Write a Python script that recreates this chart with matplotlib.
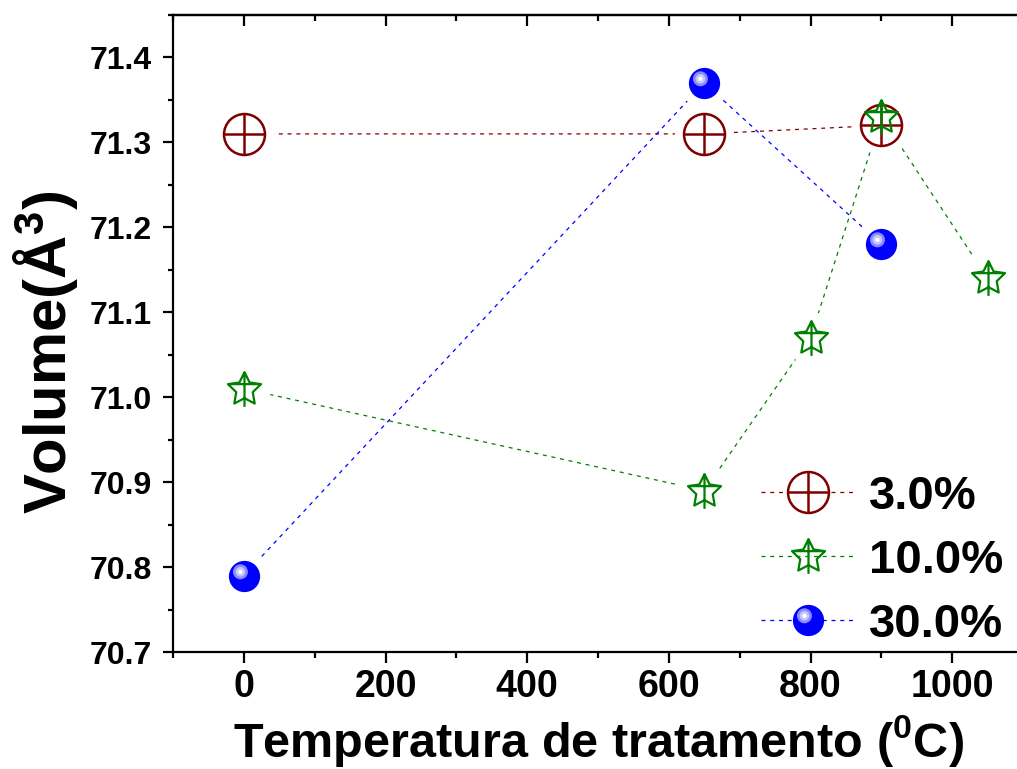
import numpy as np
import matplotlib
matplotlib.use('Agg')
import matplotlib.pyplot as plt
from matplotlib.path import Path
from matplotlib.lines import Line2D
from matplotlib.ticker import MultipleLocator

# data
temp_3 = [0, 650, 900]
vol_3 = [71.31, 71.31, 71.32]
temp_10 = [0, 650, 800, 900, 1050]
vol_10 = [71.01, 70.89, 71.07, 71.33, 71.14]
temp_30 = [0, 650, 900]
vol_30 = [70.79, 71.37, 71.18]
labels = ['3.0%', '10.0%', '30.0%']

RED = '#800000'
GREEN = '#008000'
BLUE = '#0000ff'

plt.rcParams['font.family'] = ['Liberation Sans', 'DejaVu Sans']
plt.rcParams['font.weight'] = 'bold'
plt.rcParams['mathtext.default'] = 'regular'


def star_marker():
    # star outline with a vertical and a horizontal bar (Origin style)
    ang = np.deg2rad(90 + 36 * np.arange(10))
    r = np.where(np.arange(10) % 2 == 0, 1.0, 0.5)
    verts = list(zip(r * np.cos(ang), r * np.sin(ang))) + [(0, 0)]
    codes = [Path.MOVETO] + [Path.LINETO] * 9 + [Path.CLOSEPOLY]
    y_arm = np.sin(np.deg2rad(18))
    verts += [(-0.95, y_arm), (0.95, y_arm), (0, 1), (0, -1)]
    codes += [Path.MOVETO, Path.LINETO, Path.MOVETO, Path.LINETO]
    return Path(verts, codes)


def spot(cx, cy, r):
    # small disc off-centre, padded so the marker keeps unit scale
    c = Path.circle((cx, cy), r)
    verts = np.vstack([c.vertices, [[1, 1], [-1, -1]]])
    codes = np.concatenate([c.codes, [Path.MOVETO, Path.MOVETO]])
    return Path(verts, codes)


STAR = star_marker()
SPHERE_MS = 22.5

red_layers = [
    dict(marker='o', ms=29.5, mfc='none', mec=RED, mew=1.8),
    dict(marker='+', ms=29.5, mec=RED, mew=1.8),
]
green_layers = [
    dict(marker=STAR, ms=25, mfc='none', mec=GREEN, mew=1.6),
]
blue_layers = [
    dict(marker='o', ms=SPHERE_MS, mfc=BLUE, mec='none', mew=0),
    dict(marker=spot(-0.26, 0.3, 0.48), ms=SPHERE_MS, mfc='#8a8aff', mec='none', mew=0),
    dict(marker=spot(-0.26, 0.3, 0.31), ms=SPHERE_MS, mfc='#c4c4ff', mec='none', mew=0),
    dict(marker=spot(-0.26, 0.3, 0.14), ms=SPHERE_MS, mfc='white', mec='none', mew=0),
]

fig = plt.figure(figsize=(10.17, 7.69), dpi=100)
ax = fig.add_axes([173 / 1017, 117 / 769, 850 / 1017, 637 / 769])

series = [
    (temp_3, vol_3, RED, red_layers, 3, 29.5),
    (temp_10, vol_10, GREEN, green_layers, 4, 25),
    (temp_30, vol_30, BLUE, blue_layers, 5, SPHERE_MS),
]

handles = []
for x, y, color, layers, z, ms in series:
    ax.plot(x, y, color=color, lw=0.9, dashes=(3.2, 3.8), zorder=2)
    # white halo so the dashed line stops short of the symbol
    ax.plot(x, y, ls='none', marker='o', ms=ms + 13, mfc='white',
            mec='none', zorder=2.5)
    for kw in layers:
        ax.plot(x, y, ls='none', zorder=z, **kw)
    h = [Line2D([], [], color=color, lw=0.9, dashes=(3.2, 3.8))]
    for kw in layers:
        kw2 = dict(kw)
        if kw2.get('mfc') == 'none' and kw2.get('marker') == 'o':
            kw2['mfc'] = 'white'
        h.append(Line2D([], [], ls='none', **kw2))
    handles.append(tuple(h))

ax.set_xlim(-100, 1100)
ax.set_ylim(70.7, 71.45)
ax.xaxis.set_major_locator(MultipleLocator(200))
ax.xaxis.set_minor_locator(MultipleLocator(100))
ax.yaxis.set_major_locator(MultipleLocator(0.1))
ax.yaxis.set_minor_locator(MultipleLocator(0.05))
ax.yaxis.set_major_formatter(matplotlib.ticker.FormatStrFormatter('%.1f'))

for s in ax.spines.values():
    s.set_linewidth(1.6)

ax.tick_params(axis='x', which='major', direction='out', length=8, width=1.6,
               labelsize=27, pad=4)
ax.tick_params(axis='x', which='minor', direction='out', length=4.5, width=1.6)
ax.tick_params(axis='y', which='major', direction='out', length=7, width=1.6,
               labelsize=23, pad=8)
ax.tick_params(axis='y', which='minor', direction='out', length=3.5, width=1.6)

top = ax.secondary_xaxis('top')
top.xaxis.set_major_locator(MultipleLocator(200))
top.xaxis.set_minor_locator(MultipleLocator(100))
top.tick_params(which='major', direction='in', length=8, width=1.6, labeltop=False)
top.tick_params(which='minor', direction='in', length=4.5, width=1.6)
top.spines['top'].set_linewidth(1.6)

ax.set_xlabel('Temperatura de tratamento ($^0$C)', fontsize=35, fontweight='bold')
ax.xaxis.set_label_coords(0.5, -0.095)
ax.set_ylabel('Volume(Å$^3$)', fontsize=43, fontweight='bold')
ax.yaxis.set_label_coords(-0.11, 0.47)

ax.legend(handles, labels, loc='upper left',
          bbox_to_anchor=(761 / 1017, 1 - 475 / 769), bbox_transform=fig.transFigure,
          frameon=False, handlelength=2.0, handletextpad=0.28,
          labelspacing=0.42, borderpad=0, borderaxespad=0,
          prop={'weight': 'bold', 'size': 34})

fig.savefig('out.png', dpi=100)
